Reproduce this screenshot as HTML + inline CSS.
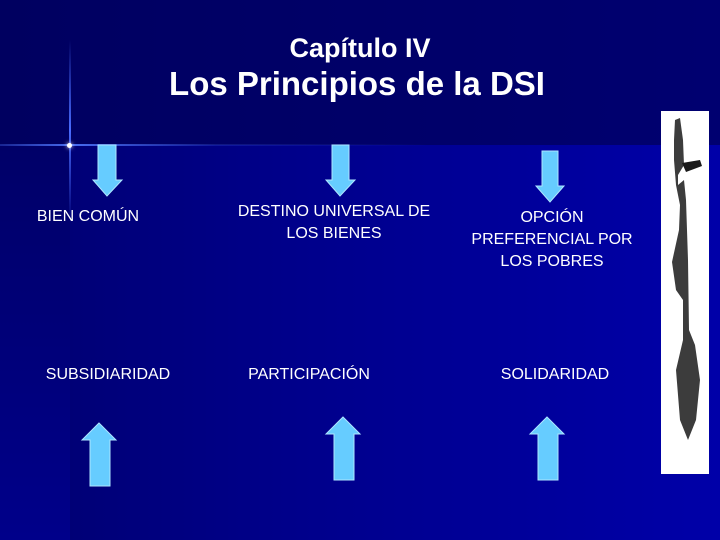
<!DOCTYPE html><html><head><style>
body{margin:0;width:720px;height:540px;overflow:hidden;position:relative;font-family:"Liberation Sans",sans-serif;color:#fff;
background:linear-gradient(90deg,#000070 0%,#00008a 40%,#0000a8 100%)}
.top{position:absolute;left:0;top:0;width:720px;height:145px;background:linear-gradient(90deg,#000060,#000070)}
.ls{position:absolute;left:0;top:145px;width:70px;height:395px;background:linear-gradient(180deg,#000068,#00008a)}
.t{position:absolute;text-align:center;font-size:16px;line-height:22px}
</style></head><body>
<div class="top"></div><div class="ls"></div>
<div style="position:absolute;left:0;top:144px;width:720px;height:2px;background:linear-gradient(90deg,rgba(80,120,255,.3),rgba(80,120,255,.9) 10%,rgba(80,120,255,.2) 30%,transparent 60%)"></div>
<div style="position:absolute;left:69px;top:40px;width:2px;height:180px;background:linear-gradient(180deg,transparent,#4a6cff 50%,transparent)"></div>
<div style="position:absolute;left:67px;top:143px;width:5px;height:5px;border-radius:50%;background:#fff;box-shadow:0 0 4px #fff"></div>
<div class="t" style="left:0;width:720px;top:32px;font-size:27px;font-weight:bold;line-height:32px">Capítulo IV</div>
<div class="t" style="left:0;width:714px;top:66px;font-size:33px;font-weight:bold;line-height:36px">Los Principios de la DSI</div>
<svg width="720" height="540" style="position:absolute;left:0;top:0">
<g fill="#66ccff" stroke="#aee6ff" stroke-width="1">
<polygon points="98,145 116,145 116,180 122,180 107,196 93,180 98,180"/>
<polygon points="332,145 349,145 349,180 355,180 340,196 326,180 332,180"/>
<polygon points="542,151 558,151 558,186 564,186 550,202 536,186 542,186"/>
<polygon points="99,423 116,440 110,440 110,486 90,486 90,440 82,440"/>
<polygon points="343,417 360,434 354,434 354,480 334,480 334,434 326,434"/>
<polygon points="547,417 564,434 558,434 558,480 538,480 538,434 530,434"/>
</g>
<rect x="661" y="111" width="48" height="363" fill="#fff"/>
<g fill="#1a1a1a">
<path d="M675 120 L680 118 L683 140 L684 165 L678 175 L678 185 L684 180 L686 200 L688 260 L689 330 L695 345 L700 380 L696 420 L688 440 L680 420 L676 370 L683 340 L683 300 L676 290 L672 262 L679 230 L680 205 L676 185 L674 160 L674 140 Z" fill-opacity="0.85"/>
<path d="M682 163 L700 160 L702 166 L686 172 Z"/>
</g>
</svg>
<div class="t" style="left:18px;width:140px;top:206px">BIEN COMÚN</div>
<div class="t" style="left:224px;width:220px;top:201px">DESTINO UNIVERSAL DE<br>LOS BIENES</div>
<div class="t" style="left:452px;width:200px;top:207px">OPCIÓN<br>PREFERENCIAL POR<br>LOS POBRES</div>
<div class="t" style="left:28px;width:160px;top:364px">SUBSIDIARIDAD</div>
<div class="t" style="left:229px;width:160px;top:364px">PARTICIPACIÓN</div>
<div class="t" style="left:475px;width:160px;top:364px">SOLIDARIDAD</div>
</body></html>
